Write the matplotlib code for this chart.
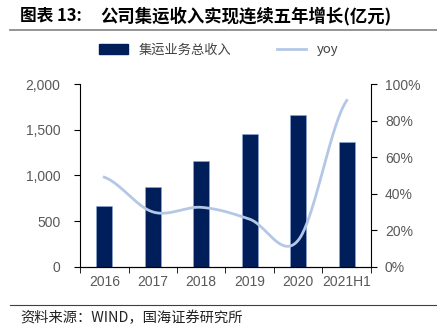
import matplotlib
matplotlib.use("Agg")
import matplotlib.pyplot as plt
import numpy as np
from matplotlib.lines import Line2D
from matplotlib.patches import Patch

plt.rcParams['font.family'] = ['Liberation Sans', 'Noto Sans CJK SC', 'DejaVu Sans']

categories = ['2016', '2017', '2018', '2019', '2020', '2021H1']
revenue = [667, 868, 1152, 1450, 1661, 1363]
yoy = [49.0, 30.0, 32.5, 26.0, 14.5, 91.0]
left_ticks = [0, 500, 1000, 1500, 2000]
right_ticks = [0, 20, 40, 60, 80, 100]

bar_color = '#001E5A'
line_color = '#B4C7E7'
tick_color = '#595959'

def smooth_curve(xs, ys, n=40, tension=0.34):
    xs = np.asarray(xs, float); ys = np.asarray(ys, float)
    px = np.concatenate([[2*xs[0]-xs[1]], xs, [2*xs[-1]-xs[-2]]])
    py = np.concatenate([[ys[0]], ys, [ys[-1]]])
    ox, oy = [], []
    for i in range(1, len(px)-2):
        t = np.linspace(0, 1, n, endpoint=(i == len(px)-3))
        for arr, out in ((px, ox), (py, oy)):
            p0, p1, p2, p3 = arr[i-1], arr[i], arr[i+1], arr[i+2]
            c1 = p1 + (p2 - p0) * tension / 2
            c2 = p2 - (p3 - p1) * tension / 2
            out.extend((1-t)**3*p1 + 3*(1-t)**2*t*c1 + 3*(1-t)*t**2*c2 + t**3*p2)
    return np.array(ox), np.array(oy)

fig = plt.figure(figsize=(4.37, 3.34), dpi=100)
ax = fig.add_axes([80/437, 1-266.7/334, (371-80)/437, (266.7-84)/334])
x = np.arange(len(categories))
ax.bar(x, revenue, width=0.32, color=bar_color, edgecolor='#8EA9DB', linewidth=0.4, zorder=2)
ax.set_xlim(-0.5, len(categories)-0.5)
ax.set_ylim(0, 2000)
ax.set_yticks(left_ticks)
ax.set_yticklabels([f'{v:,}' for v in left_ticks])
ax.set_xticks(x)
ax.set_xticklabels(categories)
ax.set_xticks(np.arange(-0.5, len(categories), 1.0), minor=True)
ax.tick_params(axis='x', which='major', length=0, pad=6, labelsize=10, colors=tick_color)
ax.tick_params(axis='x', which='minor', length=4, direction='out', color='black')
ax.tick_params(axis='y', length=4, direction='out', labelsize=10, labelcolor=tick_color, pad=10)
ax.spines['top'].set_visible(False)
ax.spines['right'].set_visible(False)

ax2 = ax.twinx()
cx, cy = smooth_curve(x, yoy)
ax2.plot(cx, cy, color=line_color, linewidth=2.0, zorder=3)
ax2.set_ylim(0, 100)
ax2.set_yticks(right_ticks)
ax2.set_yticklabels([f'{v}%' for v in right_ticks])
ax2.tick_params(axis='y', length=4, direction='out', labelsize=10, labelcolor=tick_color, pad=6)
ax2.spines['top'].set_visible(False)
ax2.spines['left'].set_visible(False)

handles = [Patch(facecolor=bar_color, edgecolor=bar_color), Line2D([0], [0], color=line_color, lw=2)]
fig.legend(handles, ['集运业务总收入', 'yoy'], loc='center', bbox_to_anchor=(0.5, 1-50/334),
           ncol=2, frameon=False, handlelength=2.2, columnspacing=3.5,
           prop={'family': ['Noto Sans CJK SC', 'DejaVu Sans'], 'size': 9.5}, labelcolor='#404040')

cjk = ['Noto Sans CJK SC', 'DejaVu Sans']
fig.text(20/437, 1-16/334, '图表 13:', fontsize=12, fontweight='bold',
         va='center', ha='left', family=cjk)
fig.text(100/437, 1-16/334, '公司集运收入实现连续五年增长(亿元)', fontsize=12.5, fontweight='bold',
         va='center', ha='left', family=cjk)
fig.add_artist(Line2D([10/437, 1.0], [1-29.5/334, 1-29.5/334], color='#8c8c8c', lw=1.3))
fig.add_artist(Line2D([10/437, 1.0], [1-305/334, 1-305/334], color='#404040', lw=0.8))
fig.text(20/437, 1-318/334, '资料来源：WIND，国海证券研究所', fontsize=10.3, va='center', ha='left',
         family=cjk, color='#222222')

fig.savefig('out.png', dpi=100)
